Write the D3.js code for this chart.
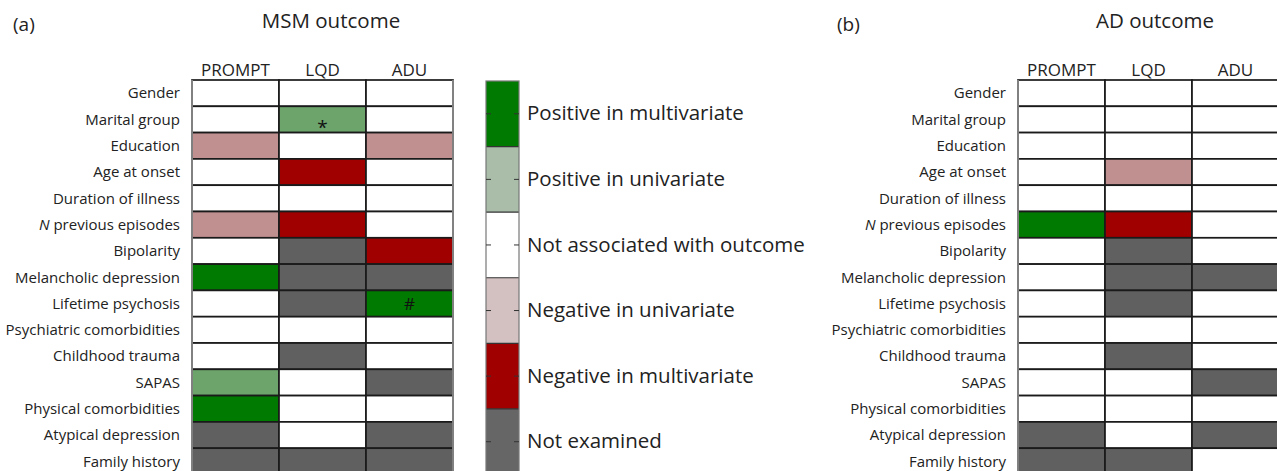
<!DOCTYPE html>
<html>
<head>
<meta charset="utf-8">
<script src="https://cdn.jsdelivr.net/npm/d3@7"></script>
<style>
  body { margin: 0; background: #fff; }
  text { font-family: "Open Sans", sans-serif; fill: #222; }
</style>
</head>
<body>
<div id="viz"></div>
<script>
var width = 1277;
var height = 471;

// row labels (same for both panels)
var rows = ["Gender", "Marital group", "Education", "Age at onset", "Duration of illness",
  "N previous episodes", "Bipolarity", "Melancholic depression", "Lifetime psychosis",
  "Psychiatric comorbidities", "Childhood trauma", "SAPAS", "Physical comorbidities",
  "Atypical depression", "Family history"];
var studies = ["PROMPT", "LQD", "ADU"];

// 2 = positive multivariate, 1 = positive univariate, 0 = not associated,
// -1 = negative univariate, -2 = negative multivariate, "x" = not examined
var msmValues = [
  [0, 0, 0], [0, 1, 0], [-1, 0, -1], [0, -2, 0], [0, 0, 0],
  [-1, -2, 0], [0, "x", -2], [2, "x", "x"], [0, "x", 2], [0, 0, 0],
  [0, "x", 0], [1, 0, "x"], [2, 0, 0], ["x", 0, "x"], ["x", "x", "x"]
];
var adValues = [
  [0, 0, 0], [0, 0, 0], [0, 0, 0], [0, -1, 0], [0, 0, 0],
  [2, -2, 0], [0, "x", 0], [0, "x", "x"], [0, "x", 0], [0, 0, 0],
  [0, "x", 0], [0, 0, "x"], [0, 0, 0], ["x", 0, "x"], ["x", "x", 0]
];
var msmNotes = [
  {row: "Marital group", study: "LQD", mark: "*"},
  {row: "Lifetime psychosis", study: "ADU", mark: "#"}
];

var legendKeys = [2, 1, 0, -1, -2, "x"];
var legendLabels = ["Positive in multivariate", "Positive in univariate", "Not associated with outcome",
  "Negative in univariate", "Negative in multivariate", "Not examined"];

var cellColor = d3.scaleOrdinal()
  .domain(legendKeys)
  .range(["#007a00", "#6ca46c", "#ffffff", "#c09090", "#a00000", "#606060"]);
var legendColor = d3.scaleOrdinal()
  .domain(legendKeys)
  .range(["#007a00", "#a9bda9", "#ffffff", "#d3c1c1", "#a00000", "#666666"]);

var svg = d3.select("#viz")
  .append("svg")
  .attr("width", width)
  .attr("height", height);

var gridTop = 80;
var rowH = 26.3;

var y = d3.scaleBand()
  .domain(rows)
  .range([gridTop, gridTop + rows.length * rowH]);

function drawPanel(x0, x1, values, notes, title, tag, titleX) {
  var g = svg.append("g");
  var x = d3.scaleBand().domain(studies).range([x0, x1]);

  g.append("text")
    .attr("x", titleX - 318)
    .attr("y", 31)
    .style("font-size", "19px")
    .text(tag);

  g.append("text")
    .attr("x", titleX)
    .attr("y", 28)
    .attr("text-anchor", "middle")
    .style("font-size", "20.5px")
    .text(title);

  // column headers
  g.selectAll(".colhead")
    .data(studies)
    .enter()
    .append("text")
    .attr("x", function(d) { return x(d) + x.bandwidth() / 2; })
    .attr("y", 76)
    .attr("text-anchor", "middle")
    .style("font-size", "17px")
    .text(function(d) { return d; });

  // row labels
  var lab = g.selectAll(".rowlab")
    .data(rows)
    .enter()
    .append("text")
    .attr("x", x0 - 12)
    .attr("y", function(d) { return y(d) + y.bandwidth() / 2; })
    .attr("dy", "0.35em")
    .attr("text-anchor", "end")
    .style("font-size", "15px");
  lab.each(function(d) {
    var t = d3.select(this);
    if (d.indexOf("N ") == 0) {
      t.append("tspan").style("font-style", "italic").text("N");
      t.append("tspan").text(d.substring(1));
    } else {
      t.text(d);
    }
  });

  // cells
  var cells = [];
  values.forEach(function(r, i) {
    r.forEach(function(v, j) {
      cells.push({row: rows[i], study: studies[j], v: v});
    });
  });

  g.selectAll(".cell")
    .data(cells)
    .enter()
    .append("rect")
    .attr("x", function(d) { return x(d.study); })
    .attr("y", function(d) { return y(d.row); })
    .attr("width", x.bandwidth())
    .attr("height", y.bandwidth())
    .style("fill", function(d) { return cellColor(d.v); })
    .style("stroke", "#1a1a1a")
    .style("stroke-width", 1.7);

  // grey outer sides
  g.append("line")
    .attr("x1", x0).attr("x2", x0)
    .attr("y1", gridTop).attr("y2", y.range()[1])
    .style("stroke", "#8a8a8a")
    .style("stroke-width", 1.8);
  g.append("line")
    .attr("x1", x1).attr("x2", x1)
    .attr("y1", gridTop).attr("y2", y.range()[1])
    .style("stroke", "#8a8a8a")
    .style("stroke-width", 1.8);

  g.selectAll(".note")
    .data(notes)
    .enter()
    .append("text")
    .attr("x", function(d) { return x(d.study) + x.bandwidth() / 2; })
    .attr("y", function(d) { return y(d.row) + y.bandwidth() / 2; })
    .attr("dy", function(d) { return d.mark == "*" ? "0.75em" : "0.4em"; })
    .attr("text-anchor", "middle")
    .style("font-size", function(d) { return d.mark == "*" ? "19px" : "17px"; })
    .style("fill", "#111")
    .text(function(d) { return d.mark; });
}

drawPanel(192, 453, msmValues, msmNotes, "MSM outcome", "(a)", 331);
drawPanel(1018, 1279, adValues, [], "AD outcome", "(b)", 1155);

// legend colour bar
var legX0 = 486;
var legX1 = 519;
var ly = d3.scaleBand()
  .domain(legendKeys)
  .range([gridTop + 1, gridTop + rows.length * rowH]);

var legend = svg.append("g").attr("id", "legend");

legend.selectAll(".legrect")
  .data(legendKeys)
  .enter()
  .append("rect")
  .attr("x", legX0)
  .attr("y", function(d) { return ly(d); })
  .attr("width", legX1 - legX0)
  .attr("height", ly.bandwidth())
  .style("fill", function(d) { return legendColor(d); });

legend.selectAll(".legsep")
  .data(legendKeys.slice(1))
  .enter()
  .append("line")
  .attr("x1", legX0).attr("x2", legX1)
  .attr("y1", function(d) { return ly(d); })
  .attr("y2", function(d) { return ly(d); })
  .style("stroke", "#333")
  .style("stroke-width", 1.2);

legend.append("rect")
  .attr("x", legX0)
  .attr("y", ly.range()[0])
  .attr("width", legX1 - legX0)
  .attr("height", ly.range()[1] - ly.range()[0])
  .style("fill", "none")
  .style("stroke", "#777")
  .style("stroke-width", 1.2);

var ticksLeft = d3.axisRight(ly).tickSize(5).tickFormat("");
legend.append("g")
  .attr("transform", "translate(" + legX0 + ",0)")
  .call(ticksLeft)
  .call(function(a) { a.select(".domain").remove(); })
  .selectAll("line").style("stroke", "#333");

var labelMap = {};
legendKeys.forEach(function(k, i) { labelMap[k] = legendLabels[i]; });

var ticksRight = d3.axisRight(ly)
  .tickSizeInner(-5)
  .tickSizeOuter(0)
  .tickPadding(8)
  .tickFormat(function(d) { return labelMap[d]; });
var ra = legend.append("g")
  .attr("transform", "translate(" + legX1 + ",0)")
  .call(ticksRight);
ra.select(".domain").remove();
ra.selectAll("line").style("stroke", "#333");
ra.selectAll("text")
  .style("font-family", "'Open Sans', sans-serif")
  .style("font-size", "20.5px")
  .style("fill", "#222");
</script>
</body>
</html>
